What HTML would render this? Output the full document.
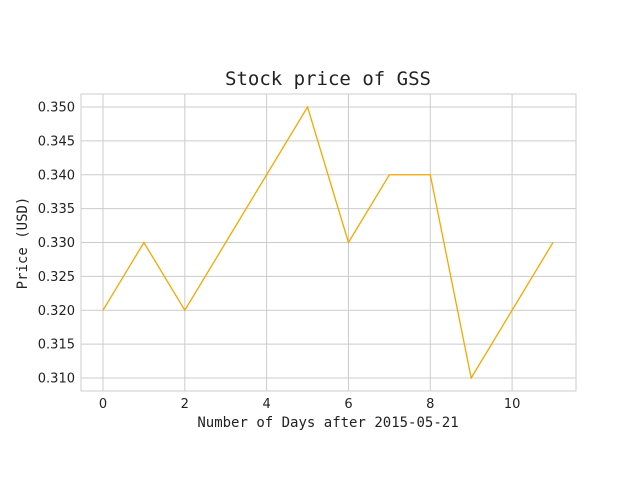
<!DOCTYPE html>
<html><head><meta charset="utf-8"><style>
body{margin:0;background:#fff;}
svg{display:block;}
</style></head><body>
<svg id="chart" width="640" height="480" xmlns="http://www.w3.org/2000/svg">
<rect width="640" height="480" fill="#fff"/>
<g id="grid"></g>
<rect x="81" y="94" width="495" height="297" fill="none" stroke="#ccc" stroke-width="1"/>
<g id="ticks"></g>
<polyline id="line" fill="none" stroke="#f5a800" stroke-width="1.3"/>
<text x="328" y="85" text-anchor="middle" font-family="DejaVu Sans Mono, Liberation Mono, monospace" font-size="19" fill="#222">Stock price of GSS</text>
<text x="328" y="427" text-anchor="middle" font-family="DejaVu Sans Mono, Liberation Mono, monospace" font-size="14" fill="#222">Number of Days after 2015-05-21</text>
<text transform="translate(27,243) rotate(-90)" text-anchor="middle" font-family="DejaVu Sans Mono, Liberation Mono, monospace" font-size="14" fill="#222">Price (USD)</text>
</svg>
<script>
const days=[0,1,2,3,4,5,6,7,8,9,10,11];
const prices=[0.32,0.33,0.32,0.33,0.34,0.35,0.33,0.34,0.34,0.31,0.32,0.33];
const xTicks=[0,2,4,6,8,10];
const yTicks=[0.310,0.315,0.320,0.325,0.330,0.335,0.340,0.345,0.350];
const NS="http://www.w3.org/2000/svg";
const xs=d=>103+(d-0)*(553-103)/11;
const ys=v=>378-(v-0.31)*(378-107)/0.04;
const grid=document.getElementById('grid'),ticks=document.getElementById('ticks');
function mk(tag,attrs,parent){const e=document.createElementNS(NS,tag);for(const k in attrs)e.setAttribute(k,attrs[k]);parent.appendChild(e);return e;}
xTicks.forEach(t=>{
 const l=mk('line',{x1:xs(t),x2:xs(t),y1:94,y2:391,stroke:'#ccc','stroke-width':1},grid);
 
 
 const tx=mk('text',{x:xs(t),y:408,'text-anchor':'middle','font-family':'DejaVu Sans, Liberation Sans, sans-serif','font-size':13,fill:'#222'},ticks);
 tx.textContent=t;
 
 
});
yTicks.forEach(t=>{
 const l=mk('line',{x1:81,x2:576,y1:ys(t),y2:ys(t),stroke:'#ccc','stroke-width':1},grid);
 
 
 const tx=mk('text',{x:75,y:ys(t)+4.5,'text-anchor':'end','font-family':'DejaVu Sans, Liberation Sans, sans-serif','font-size':13,fill:'#222'},ticks);
 tx.textContent=t.toFixed(3);
 
 
});
document.getElementById('line').setAttribute('points',days.map((d,i)=>xs(d)+','+ys(prices[i])).join(' '));
</script>
</body></html>
